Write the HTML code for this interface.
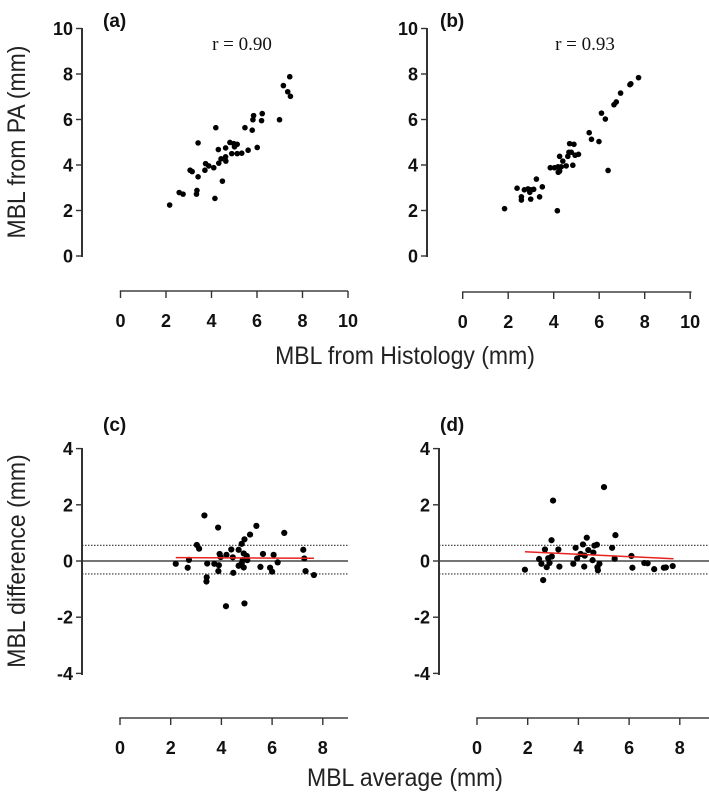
<!DOCTYPE html>
<html><head><meta charset="utf-8"><style>
body{margin:0;background:#fff}
svg{display:block}
.tk{font-family:"Liberation Sans",Arial,sans-serif;font-weight:bold;font-size:18px;fill:#111}
.ttl{font-family:"Liberation Sans Narrow","Liberation Sans",sans-serif;font-size:25px;fill:#222}
.pl{font-family:"Liberation Sans",sans-serif;font-weight:bold;font-size:19px;fill:#111}
.rl{font-family:"Liberation Serif",serif;font-size:19px;fill:#111}
.yaxis{position:absolute;width:2px;background:#333}
</style></head><body style="position:relative;width:709px;height:797px;overflow:hidden">
<svg id="chart" width="709" height="797" viewBox="0 0 709 797"></svg>
<div class="yaxis" style="left:81px;top:28px;height:229px"></div>
<div class="yaxis" style="left:426px;top:28px;height:229px"></div>
<div class="yaxis" style="left:81px;top:448px;height:227px"></div>
<div class="yaxis" style="left:438px;top:448px;height:227px"></div>
<script>
const aX=[7.44,7.16,7.35,7.47,6.23,6.20,5.85,5.82,6.99,4.19,5.47,5.79,3.41,6.01,5.61,4.30,4.62,4.81,4.98,5.13,5.01,4.89,5.13,5.33,4.62,4.42,4.63,4.32,3.74,3.88,4.10,3.71,3.06,3.15,3.41,4.48,2.58,2.75,3.36,3.34,4.15,2.16];
const aY=[7.88,7.49,7.22,7.02,6.26,5.95,6.17,5.99,5.99,5.64,5.64,5.53,4.97,4.77,4.65,4.68,4.75,4.99,4.94,4.91,4.80,4.50,4.50,4.52,4.36,4.27,4.17,4.08,4.06,3.96,3.88,3.77,3.77,3.71,3.48,3.29,2.79,2.72,2.88,2.72,2.53,2.24];
const bX=[7.73,7.39,7.35,6.94,6.75,6.65,6.10,6.27,5.56,5.66,5.99,6.39,4.70,4.89,5.09,4.94,4.77,4.62,4.26,4.67,4.40,4.55,4.84,4.33,4.19,3.85,4.04,4.26,4.20,4.16,3.24,3.50,3.38,2.39,2.71,2.87,2.99,3.12,2.95,2.58,2.58,2.99,1.84];
const bY=[7.84,7.57,7.53,7.16,6.77,6.65,6.28,6.02,5.42,5.13,5.03,3.76,4.94,4.91,4.47,4.43,4.56,4.38,4.38,4.56,4.17,3.96,3.99,3.92,3.92,3.88,3.88,3.73,3.68,1.99,3.38,3.04,2.60,2.98,2.91,2.95,2.91,2.93,2.80,2.60,2.46,2.50,2.08];
const cX=[3.33,3.87,5.38,6.48,5.13,4.91,4.80,3.03,3.12,4.68,4.39,7.23,3.93,4.20,5.64,6.06,4.88,5.00,4.45,3.97,7.27,2.72,4.84,5.02,2.20,3.44,3.72,3.90,4.80,4.68,6.22,2.67,4.88,5.54,5.92,3.88,4.47,6.00,7.32,7.65,3.42,3.41,4.18,4.91];
const cY=[1.62,1.19,1.25,1.00,0.94,0.77,0.61,0.57,0.44,0.40,0.41,0.40,0.25,0.22,0.25,0.22,0.27,0.18,0.13,0.14,0.09,0.04,0.03,0.03,-0.10,-0.09,-0.10,-0.15,-0.09,-0.17,-0.05,-0.24,-0.23,-0.21,-0.24,-0.36,-0.42,-0.38,-0.36,-0.50,-0.58,-0.73,-1.61,-1.51];
const dX=[5.01,3.00,5.46,2.94,4.33,2.68,3.21,3.89,4.18,4.63,4.73,5.33,4.39,4.59,4.09,4.25,3.95,4.56,5.43,6.09,2.95,2.81,2.45,2.54,2.86,2.75,3.25,3.80,4.23,4.83,4.75,4.77,6.13,6.60,6.73,6.99,7.37,7.45,7.72,1.89,2.61];
const dY=[2.63,2.15,0.92,0.74,0.83,0.41,0.41,0.47,0.59,0.55,0.58,0.47,0.39,0.30,0.25,0.19,0.09,0.03,0.08,0.18,0.16,0.10,0.07,-0.10,-0.07,-0.22,-0.20,-0.10,-0.20,-0.10,-0.22,-0.33,-0.24,-0.07,-0.08,-0.29,-0.24,-0.23,-0.18,-0.31,-0.68];
const topTicksY=[0,2,4,6,8,10], topTicksX=[0,2,4,6,8,10];
const botTicksY=[-4,-2,0,2,4], botTicksX=[0,2,4,6,8];
const cFitX=[2.2,7.65], cFitY=[0.12,0.10];
const dFitX=[1.89,7.75], dFitY=[0.33,0.08];
const cLoA=[0.56,-0.46], dLoA=[0.56,-0.46];

const svg=document.getElementById('chart');const NS='http://www.w3.org/2000/svg';
function mk(t,a){const e=document.createElementNS(NS,t);for(const k in a)e.setAttribute(k,a[k]);svg.appendChild(e);return e;}
function txt(s,a,cls){const e=mk('text',a);e.setAttribute('class',cls);e.textContent=s;return e;}

function panel(p){
  const sx=v=>p.x0+v*p.kx, sy=v=>p.y0-v*p.ky;
  let e;
  p.ty.forEach(v=>{mk('rect',{x:p.yax-6,y:sy(v)-0.7,width:6,height:1.4,fill:'#333'});
    const t=txt(String(v),{x:p.yax-9,y:sy(v)+6.5,'text-anchor':'end'},'tk');
    
    });
  e=mk('rect',{x:p.x0-0.7,y:p.xay-0.7,width:p.xend-p.x0+0.7,height:1.4,fill:'#333'});
  
  
  p.tx.forEach(v=>{mk('rect',{x:sx(v)-0.7,y:p.xay,width:1.4,height:7,fill:'#333'});
    const t=txt(String(v),{x:sx(v),y:p.xay+36,'text-anchor':'middle'},'tk');
    
    });
  if(p.ba){
    e=mk('line',{x1:p.yax,x2:p.xend,y1:sy(0),y2:sy(0),stroke:'#222','stroke-width':1.3});
    
    
    p.loa.forEach(v=>{const l=mk('line',{x1:p.yax,x2:p.xend,y1:sy(v),y2:sy(v),stroke:'#333','stroke-width':1.1,'stroke-dasharray':'1.5,1.5'});
      
      });
  }
  p.X.forEach((v,i)=>{const c=mk('circle',{cx:sx(v),cy:sy(p.Y[i]),r:p.pr,fill:'#000'});
    
    });
  if(p.fx){const l=mk('line',{x1:sx(p.fx[0]),x2:sx(p.fx[1]),y1:sy(p.fy[0]),y2:sy(p.fy[1]),stroke:'#e8231f','stroke-width':1.5});
    
    }
  const lb=txt('('+p.n+')',{x:p.lx,y:p.ly},'pl');
  
  
  if(p.r){const r=txt(p.r,{x:p.rx,y:50,'text-anchor':'middle'},'rl');
    
    }
}
const topK=22.75, botKx=25.35, botKy=28.1;
panel({n:'a',X:aX,Y:aY,x0:120.5,kx:topK,xend:348,y0:256,ky:topK,yax:82,xay:291,tx:topTicksX,ty:topTicksY,lx:103,ly:27,r:'r = 0.90',rx:242,pr:2.8});
panel({n:'b',X:bX,Y:bY,x0:462.7,kx:topK,xend:691.5,y0:256,ky:topK,yax:427,xay:292,tx:topTicksX,ty:topTicksY,lx:440,ly:27,r:'r = 0.93',rx:585,pr:2.8});
panel({n:'c',X:cX,Y:cY,x0:120,kx:botKx,xend:348,y0:561,ky:botKy,yax:82,xay:718,tx:botTicksX,ty:botTicksY,ba:true,loa:cLoA,fx:cFitX,fy:cFitY,lx:103,ly:431,pr:3.1});
panel({n:'d',X:dX,Y:dY,x0:477,kx:botKx,xend:709,y0:561,ky:botKy,yax:439,xay:718,tx:botTicksX,ty:botTicksY,ba:true,loa:dLoA,fx:dFitX,fy:dFitY,lx:440,ly:431,pr:3.1});
</script>
<script>
(function(){
const svg=document.getElementById('chart');const NS='http://www.w3.org/2000/svg';
function t(s,a,n){const e=document.createElementNS(NS,'text');for(const k in a)e.setAttribute(k,a[k]);e.setAttribute('class','ttl');e.textContent=s;


svg.appendChild(e);}
t('MBL from PA (mm)',{x:0,y:0,'text-anchor':'middle',transform:'translate(25,142) rotate(-90) scale(0.92,1)'},'y-axis-title-top');
t('MBL difference (mm)',{x:0,y:0,'text-anchor':'middle',transform:'translate(25,561) rotate(-90) scale(0.92,1)'},'y-axis-title-bottom');
t('MBL from Histology (mm)',{x:0,y:0,'text-anchor':'middle',transform:'translate(405,364) scale(0.92,1)'},'x-axis-title-top');
t('MBL average (mm)',{x:0,y:0,'text-anchor':'middle',transform:'translate(405,786) scale(0.92,1)'},'x-axis-title-bottom');
})();
</script>
</body></html>
